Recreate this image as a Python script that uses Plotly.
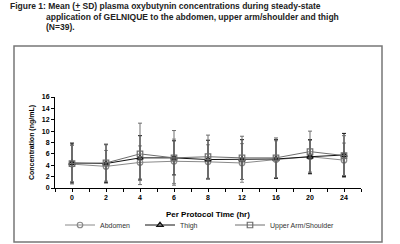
import plotly.graph_objects as go

times = ["0", "2", "4", "6", "8", "12", "16", "20", "24"]

abdomen_mean = [4.2, 3.8, 4.5, 4.7, 4.6, 4.4, 5.0, 5.5, 4.9]
abdomen_sd = [3.5, 2.8, 2.9, 3.9, 3.0, 3.4, 3.3, 2.9, 3.0]
thigh_mean = [4.4, 4.3, 5.3, 5.3, 5.0, 5.0, 5.1, 5.5, 5.8]
thigh_sd = [3.5, 3.4, 3.9, 3.0, 3.4, 3.5, 3.4, 3.0, 3.8]
arm_mean = [4.3, 4.4, 6.0, 5.3, 5.5, 5.3, 5.3, 6.4, 5.7]
arm_sd = [3.2, 3.2, 5.4, 4.8, 3.8, 3.8, 3.5, 3.6, 3.5]

series = [
    ("Abdomen", abdomen_mean, abdomen_sd, "circle-open", "#8a8a8a", "legend"),
    ("Thigh", thigh_mean, thigh_sd, "triangle-up-open", "#111111", "legend2"),
    ("Upper Arm/Shoulder", arm_mean, arm_sd, "square-open", "#6e6e6e", "legend3"),
]

xpos = list(range(len(times)))
BOLD = "Liberation Sans"

fig = go.Figure()
for name, mean, sd, sym, col, leg in series:
    fig.add_trace(go.Scatter(
        x=xpos, y=mean, name=name, mode="lines+markers",
        line=dict(color=col, width=1),
        marker=dict(symbol=sym, size=5.5, color=col, line=dict(width=1.2, color=col)),
        error_y=dict(type="data", array=sd, visible=True, color=col, thickness=1, width=2),
        legend=leg,
    ))

legfont = dict(family="Liberation Sans", size=7, color="#333")
common = dict(orientation="h", yanchor="middle", xanchor="left",
              xref="container", yref="container", y=(244 - 225) / 244,
              font=legfont, bgcolor="rgba(0,0,0,0)", itemwidth=30,
              tracegroupgap=0, borderwidth=0)

fig.update_layout(
    width=400, height=244,
    margin=dict(l=55, r=39, t=97, b=56, autoexpand=False),
    paper_bgcolor="white", plot_bgcolor="white",
    showlegend=True,
    legend=dict(x=60 / 400, **common),
    legend2=dict(x=140 / 400, **common),
    legend3=dict(x=230 / 400, **common),
    xaxis=dict(
        range=[-0.5, len(times) - 0.5], tickvals=xpos, ticktext=times,
        showline=True, linecolor="black", linewidth=1,
        ticks="outside", ticklen=3, tickcolor="black",
        minor=dict(dtick=0.5, tick0=-0.5, ticks="outside", ticklen=3, tickcolor="black"),
        showgrid=False, zeroline=False, automargin=False,
        tickfont=dict(family=BOLD, size=7, color="black", weight="bold"),
    ),
    yaxis=dict(
        range=[0, 16], dtick=2,
        showline=True, linecolor="black", linewidth=1,
        ticks="outside", ticklen=3, tickcolor="black",
        showgrid=False, zeroline=False, automargin=False,
        tickfont=dict(family=BOLD, size=7, color="black", weight="bold"),
        title=dict(text="<b>Concentration (ng/mL)</b>", standoff=6,
                   font=dict(family=BOLD, size=7, color="black")),
    ),
    shapes=[dict(type="rect", xref="paper", yref="paper",
                 x0=(14 - 55) / 306, x1=(382 - 55) / 306,
                 y0=(188 - 242) / 91, y1=(188 - 46) / 91,
                 line=dict(color="#777", width=1.5), layer="below")],
)

fig.add_annotation(text="<b>Per Protocol Time (hr)</b>", xref="paper", yref="paper",
                   x=0.5, y=(188 - 214) / 91, xanchor="center", yanchor="middle",
                   showarrow=False, font=dict(family=BOLD, size=8, color="black"))

tfont = dict(family=BOLD, size=8.5, color="#222")
titles = [
    ("<b>Figure 1: Mean (<u>+</u> SD) plasma oxybutynin concentrations during steady-state</b>", 8, 6),
    ("<b>application of GELNIQUE to the abdomen, upper arm/shoulder and thigh</b>", 44, 16.5),
    ("<b>(N=39).</b>", 44, 27),
]
for txt, px, py in titles:
    fig.add_annotation(text=txt, xref="paper", yref="paper",
                       x=(px - 55) / 306, y=(188 - py) / 91,
                       xanchor="left", yanchor="middle", showarrow=False, font=tfont)

fig.write_html("out.html")
